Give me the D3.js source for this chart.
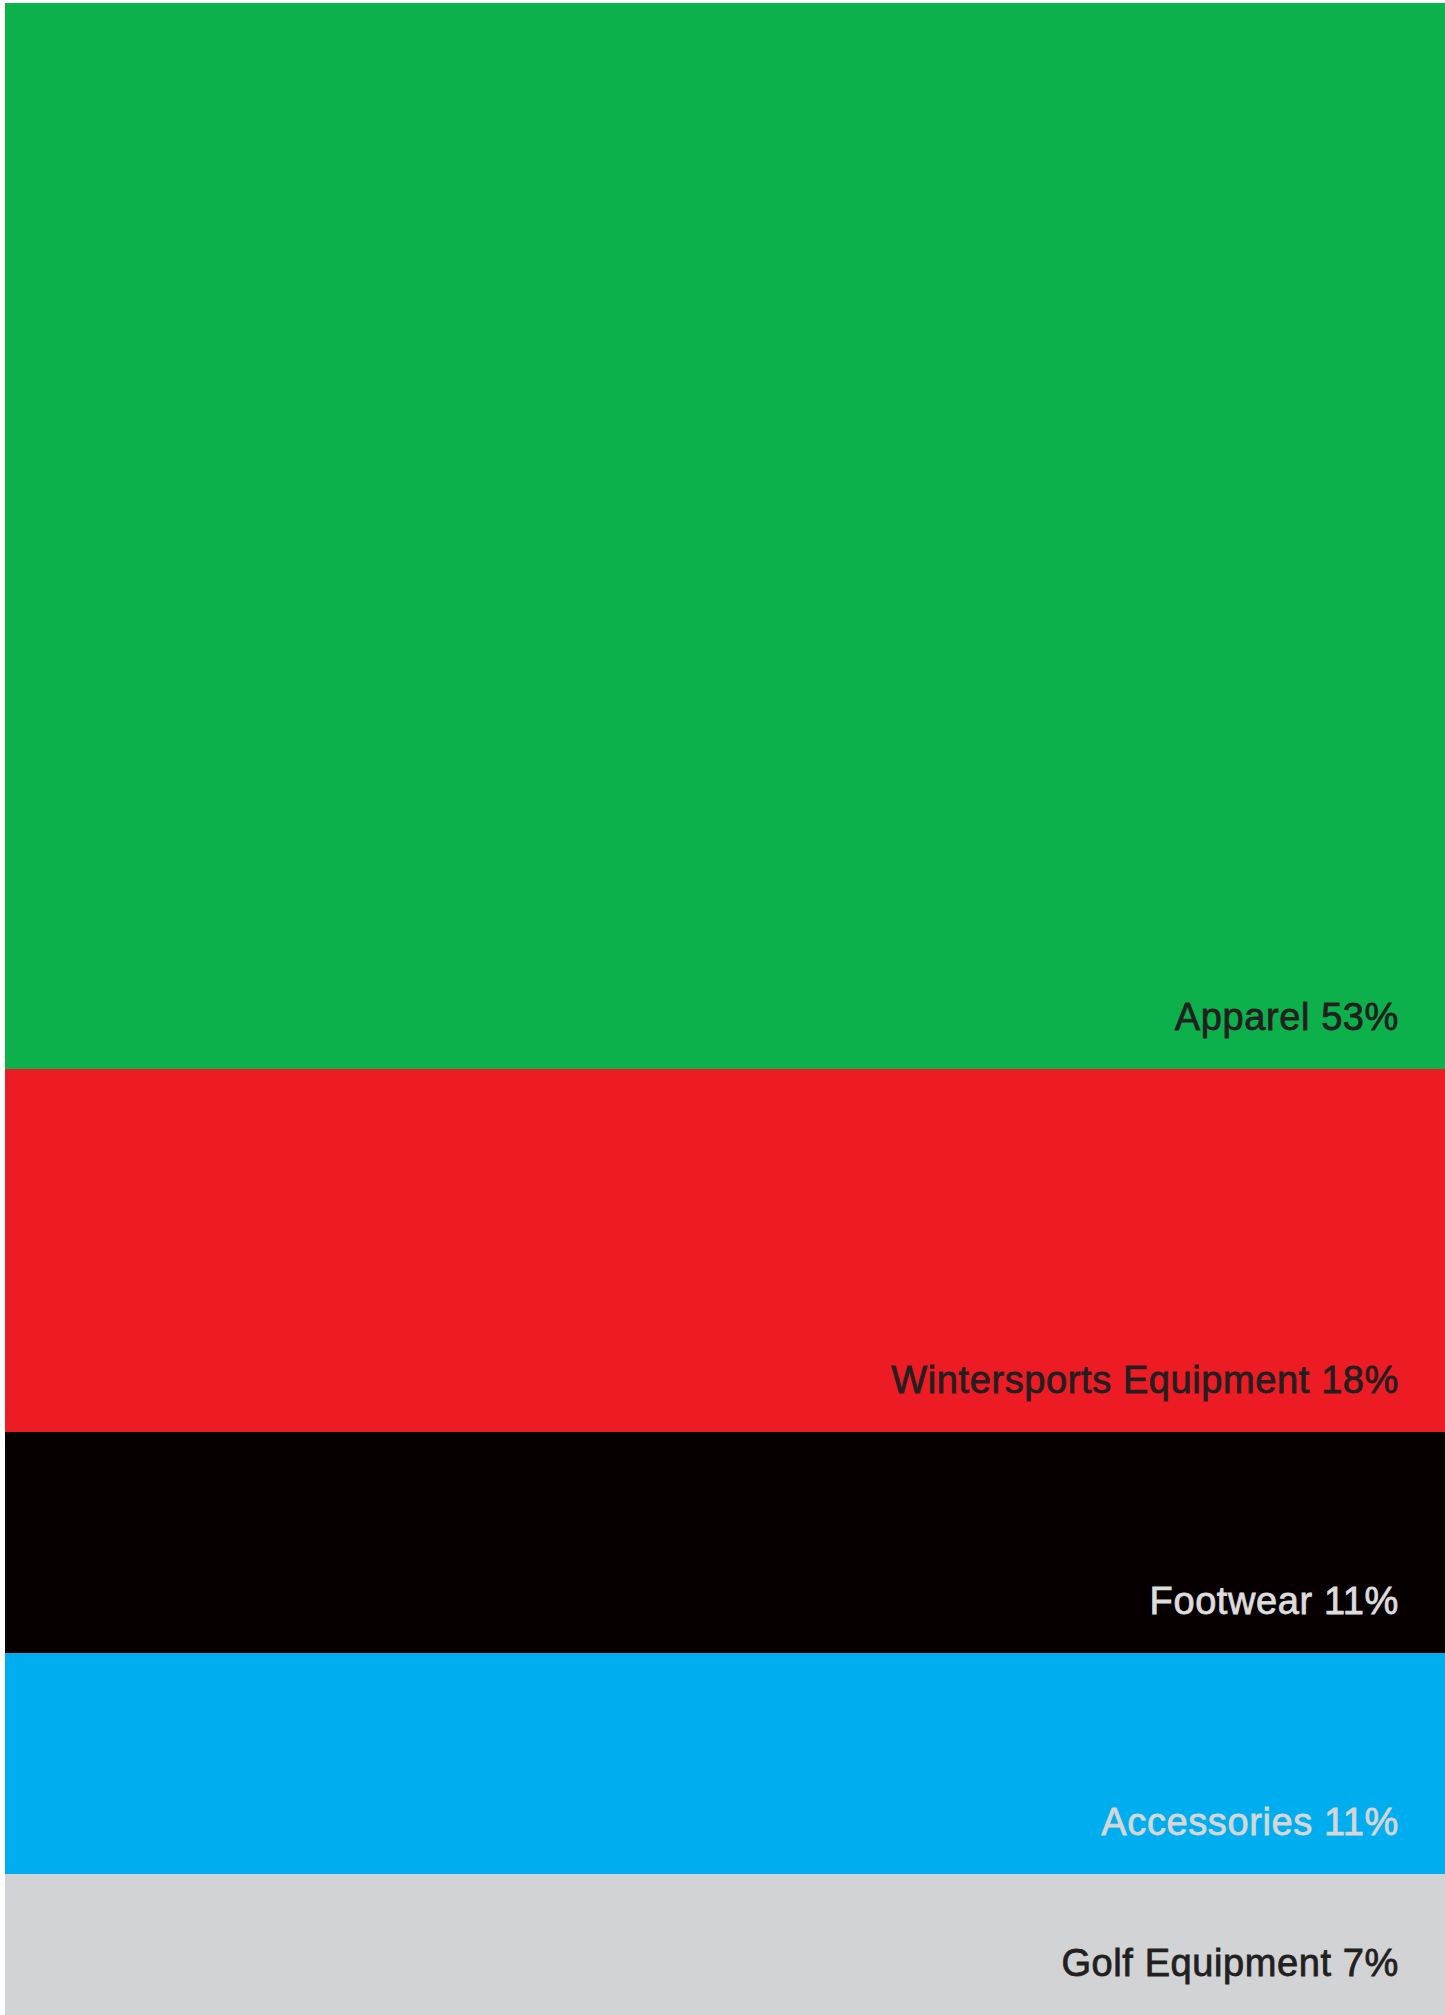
<!DOCTYPE html>
<html>
<head>
<meta charset="utf-8">
<script src="https://cdn.jsdelivr.net/npm/d3@7"></script>
<style>
  html, body { margin: 0; padding: 0; background: #ffffff; }
  svg { display: block; }
</style>
</head>
<body>
<div id="chart"></div>
<script>
// Revenue share by product segment, stacked top to bottom
const categories = ["Apparel", "Wintersports Equipment", "Footwear", "Accessories", "Golf Equipment"];
const shares = [53, 18, 11, 11, 7];
const fillColors = ["#0db14b", "#ed1c24", "#070000", "#00aeef", "#d1d3d4"];
const labelColors = ["#231f20", "#231f20", "#dcdcdc", "#d6d6d6", "#231f20"];

const chartW = 1445, chartH = 2015;
const padLeft = 5, padRight = 1445, padTop = 3, padBottom = 2015;

const svg = d3.select("#chart").append("svg")
  .attr("width", chartW)
  .attr("height", chartH);

const total = d3.sum(shares);
const y = d3.scaleLinear().domain([0, total]).range([padTop, padBottom]);
const x = d3.scaleLinear().domain([0, 1]).range([padLeft, padRight]);

const starts = shares.map((d, i) => d3.sum(shares.slice(0, i)));
const rows = categories.map((c, i) => ({
  name: c, value: shares[i], y0: starts[i], y1: starts[i] + shares[i],
  fill: fillColors[i], ink: labelColors[i]
}));

svg.selectAll("rect.band")
  .data(rows)
  .join("rect")
  .attr("class", "band")
  .attr("x", x(0))
  .attr("width", x(1) - x(0))
  .attr("y", d => y(d.y0))
  .attr("height", d => y(d.y1) - y(d.y0))
  .attr("fill", d => d.fill)
  .attr("shape-rendering", "crispEdges");

// Labels sit in the lower right corner of each band, in a medium-weight sans
svg.selectAll("text.label")
  .data(rows)
  .join("text")
  .attr("class", "label")
  .attr("x", padRight - 46)
  .attr("y", d => y(d.y1) - 39)
  .attr("text-anchor", "end")
  .attr("font-family", "'Liberation Sans', Arial, Helvetica, sans-serif")
  .attr("font-size", 38)
  .attr("letter-spacing", 0.6)
  .attr("fill", d => d.ink)
  .attr("stroke", d => d.ink)
  .attr("stroke-width", 0.8)
  .text(d => `${d.name} ${d.value}%`);
</script>
</body>
</html>
